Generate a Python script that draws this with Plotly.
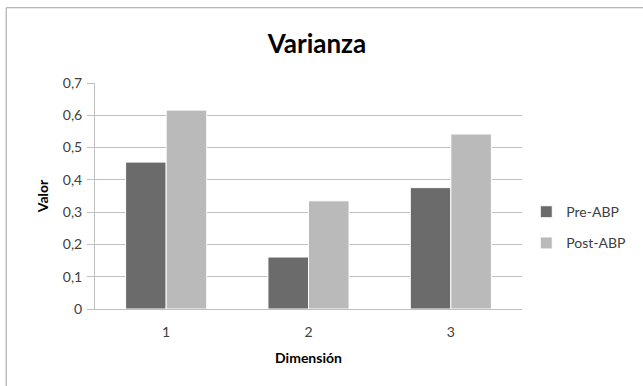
import plotly.graph_objects as go

categories = ["1", "2", "3"]
pre_abp = [0.455, 0.161, 0.376]
post_abp = [0.616, 0.335, 0.542]
y_ticks = [0, 0.1, 0.2, 0.3, 0.4, 0.5, 0.6, 0.7]
y_tick_labels = ["0", "0,1", "0,2", "0,3", "0,4", "0,5", "0,6", "0,7"]

FONT = "Lato"
TXT = "#404040"

fig = go.Figure()
fig.add_trace(go.Bar(x=categories, y=pre_abp, name="Pre-ABP", legendgroup="a",
                     marker=dict(color="#6b6b6b", line=dict(color="white", width=1))))
fig.add_trace(go.Bar(x=categories, y=post_abp, name="Post-ABP", legendgroup="b",
                     marker=dict(color="#bababa", line=dict(color="white", width=1))))

fig.update_layout(
    width=643, height=386,
    margin=dict(l=95, r=121, t=83, b=77, autoexpand=False),
    paper_bgcolor="white", plot_bgcolor="white",
    font=dict(family=FONT, size=14, color=TXT),
    barmode="group", bargap=0.43, bargroupgap=0,
    title=dict(text="<b>Varianza</b>", x=0.493, xanchor="center", y=0.885, yanchor="middle",
               font=dict(family=FONT, size=26, color="black")),
    legend=dict(x=1.01, xanchor="left", y=0.36, yanchor="middle",
                font=dict(family=FONT, size=14, color=TXT), tracegroupgap=10,
                traceorder="grouped", itemwidth=30),
    showlegend=True,
)
fig.update_xaxes(
    type="category", showgrid=False, showline=True, linecolor="#bfbfbf", linewidth=1,
    ticks="", tickfont=dict(size=14, color=TXT), ticklabelstandoff=10,
    title=dict(text="<b>Dimensión</b>", font=dict(size=14, color="black"), standoff=14),
)
fig.update_yaxes(
    range=[0, 0.7], tickvals=y_ticks, ticktext=y_tick_labels,
    showgrid=True, gridcolor="#bfbfbf", gridwidth=1,
    showline=True, linecolor="#bfbfbf", linewidth=1,
    ticks="outside", ticklen=7, tickcolor="#bfbfbf",
    tickfont=dict(size=14, color=TXT), zeroline=False, ticklabelstandoff=2,
    title=dict(text="<b>Valor</b>", font=dict(size=14, color="black"), standoff=10),
)
fig.add_shape(type="rect", xref="paper", yref="paper",
              x0=-0.208, x1=1.5, y0=-0.6, y1=1.333,
              line=dict(color="#a0a0a0", width=1), fillcolor="rgba(0,0,0,0)", layer="below")

fig.write_html("out.html")
